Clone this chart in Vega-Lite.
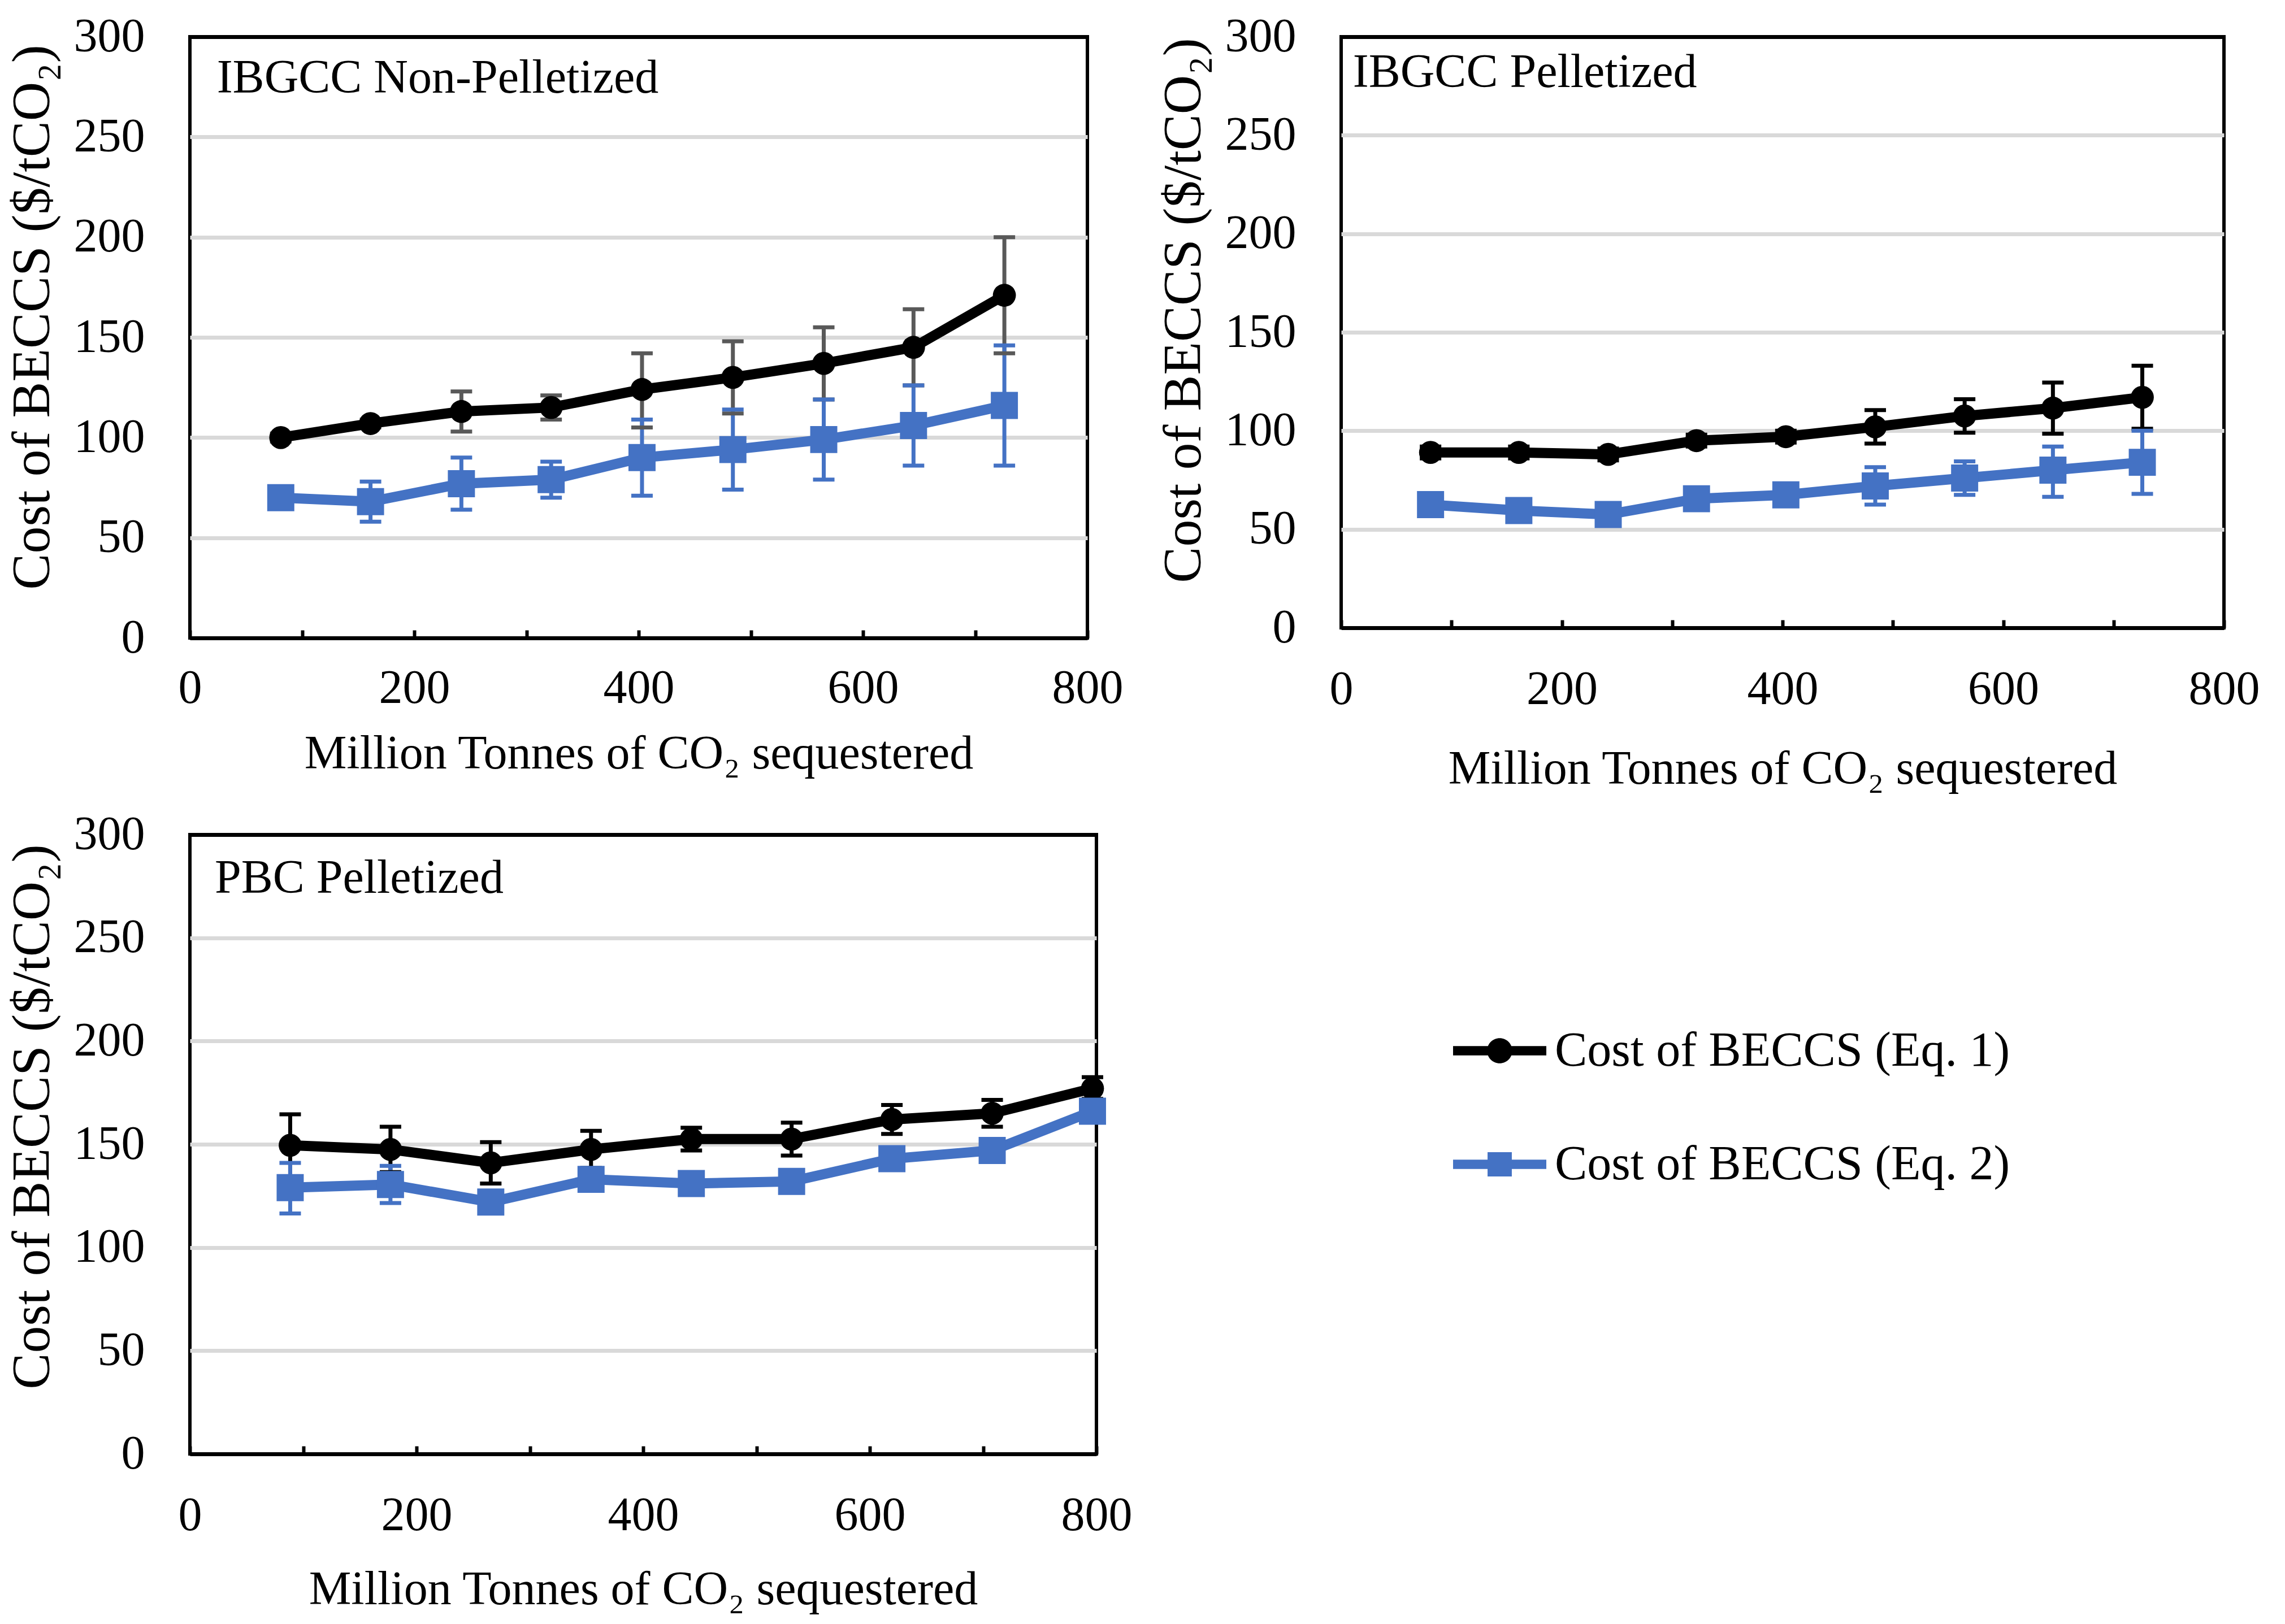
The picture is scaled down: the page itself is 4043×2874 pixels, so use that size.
{
  "$schema": "https://vega.github.io/schema/vega-lite/v6.json",
  "background": "white",
  "padding": {"left": 5, "top": 20, "right": 5, "bottom": 5},
  "config": {
    "font": "Liberation Serif",
    "view": {"stroke": "black", "strokeWidth": 6},
    "axis": {"labelFont": "Liberation Serif", "titleFont": "Liberation Serif", "labelColor": "black", "titleColor": "black", "titleFontWeight": "normal", "labelFlush": false, "labelOverlap": false},
    "axisY": {"grid": true, "gridColor": {"condition": {"test": "datum.value === 0 || datum.value === 300", "value": "black"}, "value": "#d9d9d9"}, "gridWidth": 7, "domain": false, "ticks": false, "labelFontSize": 84, "labelPadding": 80, "titleFontSize": 96, "titlePadding": 30},
    "axisX": {"grid": false, "domain": false, "ticks": true, "tickSize": -14, "tickWidth": 6, "tickColor": "black", "labelFontSize": 84, "labelPadding": 60, "titleFontSize": 84, "titlePadding": 33}
  },
  "resolve": {"scale": {"color": "independent", "shape": "independent"}, "legend": {"color": "independent", "shape": "independent"}},
  "datasets": {
    "p1": [
      {"series": "Cost of BECCS (Eq. 1)", "x": 81, "y": 100, "lo": 98, "hi": 102},
      {"series": "Cost of BECCS (Eq. 1)", "x": 161, "y": 107, "lo": 105, "hi": 109},
      {"series": "Cost of BECCS (Eq. 1)", "x": 242, "y": 113, "lo": 103, "hi": 123},
      {"series": "Cost of BECCS (Eq. 1)", "x": 322, "y": 115, "lo": 109, "hi": 121},
      {"series": "Cost of BECCS (Eq. 1)", "x": 403, "y": 124, "lo": 105, "hi": 142},
      {"series": "Cost of BECCS (Eq. 1)", "x": 484, "y": 130, "lo": 112, "hi": 148},
      {"series": "Cost of BECCS (Eq. 1)", "x": 565, "y": 137, "lo": 119, "hi": 155},
      {"series": "Cost of BECCS (Eq. 1)", "x": 645, "y": 145, "lo": 126, "hi": 164},
      {"series": "Cost of BECCS (Eq. 1)", "x": 726, "y": 171, "lo": 142, "hi": 200},
      {"series": "Cost of BECCS (Eq. 2)", "x": 81, "y": 70, "lo": 66, "hi": 74},
      {"series": "Cost of BECCS (Eq. 2)", "x": 161, "y": 68, "lo": 58, "hi": 78},
      {"series": "Cost of BECCS (Eq. 2)", "x": 242, "y": 77, "lo": 64, "hi": 90},
      {"series": "Cost of BECCS (Eq. 2)", "x": 322, "y": 79, "lo": 70, "hi": 88},
      {"series": "Cost of BECCS (Eq. 2)", "x": 403, "y": 90, "lo": 71, "hi": 109},
      {"series": "Cost of BECCS (Eq. 2)", "x": 484, "y": 94, "lo": 74, "hi": 114},
      {"series": "Cost of BECCS (Eq. 2)", "x": 565, "y": 99, "lo": 79, "hi": 119},
      {"series": "Cost of BECCS (Eq. 2)", "x": 645, "y": 106, "lo": 86, "hi": 126},
      {"series": "Cost of BECCS (Eq. 2)", "x": 726, "y": 116, "lo": 86, "hi": 146}
    ],
    "p2": [
      {"series": "Cost of BECCS (Eq. 1)", "x": 81, "y": 89, "lo": 86, "hi": 92},
      {"series": "Cost of BECCS (Eq. 1)", "x": 161, "y": 89, "lo": 86, "hi": 92},
      {"series": "Cost of BECCS (Eq. 1)", "x": 242, "y": 88, "lo": 85, "hi": 91},
      {"series": "Cost of BECCS (Eq. 1)", "x": 322, "y": 95, "lo": 92, "hi": 98},
      {"series": "Cost of BECCS (Eq. 1)", "x": 403, "y": 97, "lo": 94, "hi": 100},
      {"series": "Cost of BECCS (Eq. 1)", "x": 484, "y": 102, "lo": 93.5, "hi": 110.5},
      {"series": "Cost of BECCS (Eq. 1)", "x": 565, "y": 107.5, "lo": 99, "hi": 116},
      {"series": "Cost of BECCS (Eq. 1)", "x": 645, "y": 111.5, "lo": 98.5, "hi": 124.5},
      {"series": "Cost of BECCS (Eq. 1)", "x": 726, "y": 117, "lo": 101, "hi": 133},
      {"series": "Cost of BECCS (Eq. 2)", "x": 81, "y": 62.5, "lo": 59.5, "hi": 65.5},
      {"series": "Cost of BECCS (Eq. 2)", "x": 161, "y": 59.5, "lo": 56.5, "hi": 62.5},
      {"series": "Cost of BECCS (Eq. 2)", "x": 242, "y": 57.5, "lo": 54.5, "hi": 60.5},
      {"series": "Cost of BECCS (Eq. 2)", "x": 322, "y": 65.5, "lo": 62.5, "hi": 68.5},
      {"series": "Cost of BECCS (Eq. 2)", "x": 403, "y": 67.5, "lo": 64.5, "hi": 70.5},
      {"series": "Cost of BECCS (Eq. 2)", "x": 484, "y": 72, "lo": 62.5, "hi": 81.5},
      {"series": "Cost of BECCS (Eq. 2)", "x": 565, "y": 76, "lo": 67.5, "hi": 84.5},
      {"series": "Cost of BECCS (Eq. 2)", "x": 645, "y": 80, "lo": 66.5, "hi": 92},
      {"series": "Cost of BECCS (Eq. 2)", "x": 726, "y": 84, "lo": 68, "hi": 100}
    ],
    "p3": [
      {"series": "Cost of BECCS (Eq. 1)", "x": 88.5, "y": 149.5, "lo": 134.5, "hi": 164.5},
      {"series": "Cost of BECCS (Eq. 1)", "x": 177, "y": 147.5, "lo": 136.5, "hi": 158.5},
      {"series": "Cost of BECCS (Eq. 1)", "x": 265.5, "y": 141, "lo": 131, "hi": 151},
      {"series": "Cost of BECCS (Eq. 1)", "x": 354, "y": 147.5, "lo": 138.5, "hi": 156.5},
      {"series": "Cost of BECCS (Eq. 1)", "x": 442.5, "y": 152.5, "lo": 147, "hi": 158},
      {"series": "Cost of BECCS (Eq. 1)", "x": 531, "y": 152.5, "lo": 144.5, "hi": 160.5},
      {"series": "Cost of BECCS (Eq. 1)", "x": 619.5, "y": 162, "lo": 155, "hi": 169},
      {"series": "Cost of BECCS (Eq. 1)", "x": 708, "y": 165, "lo": 158.5, "hi": 171.5},
      {"series": "Cost of BECCS (Eq. 1)", "x": 796.5, "y": 177, "lo": 172, "hi": 182.5},
      {"series": "Cost of BECCS (Eq. 2)", "x": 88.5, "y": 129, "lo": 116.5, "hi": 141},
      {"series": "Cost of BECCS (Eq. 2)", "x": 177, "y": 130.5, "lo": 121.5, "hi": 139.5},
      {"series": "Cost of BECCS (Eq. 2)", "x": 265.5, "y": 122, "lo": 119, "hi": 125},
      {"series": "Cost of BECCS (Eq. 2)", "x": 354, "y": 133, "lo": 130, "hi": 136},
      {"series": "Cost of BECCS (Eq. 2)", "x": 442.5, "y": 131, "lo": 128, "hi": 134},
      {"series": "Cost of BECCS (Eq. 2)", "x": 531, "y": 132, "lo": 129, "hi": 135},
      {"series": "Cost of BECCS (Eq. 2)", "x": 619.5, "y": 143, "lo": 140, "hi": 146},
      {"series": "Cost of BECCS (Eq. 2)", "x": 708, "y": 147, "lo": 144, "hi": 150},
      {"series": "Cost of BECCS (Eq. 2)", "x": 796.5, "y": 166, "lo": 163, "hi": 169}
    ]
  },
  "columns": 2,
  "spacing": {"row": 348, "column": 433},
  "bounds": "flush",
  "concat": [
    {
      "width": 1588, "height": 1064,
      "layer": [
        {"data": {"name": "p1"}, "mark": {"type": "rule", "strokeWidth": 7}, "encoding": {"x": {"field": "x", "type": "quantitative", "scale": {"domain": [0, 800], "nice": false}, "axis": {"title": "Million Tonnes of CO₂ sequestered", "values": [0, 100, 200, 300, 400, 500, 600, 700, 800], "labelExpr": "datum.value % 200 === 0 ? datum.label : ''", "labelPadding": 62, "titlePadding": 33}}, "y": {"field": "lo", "type": "quantitative", "scale": {"domain": [0, 300], "nice": false}, "axis": {"title": "Cost of BECCS ($/tCO₂)", "values": [0, 50, 100, 150, 200, 250, 300], "titleY": 496}}, "y2": {"field": "hi"}, "color": {"condition": {"test": "datum.series === 'Cost of BECCS (Eq. 1)'", "value": "#595959"}, "value": "#4472C4"}}},
        {"data": {"name": "p1"}, "mark": {"type": "tick", "orient": "horizontal", "thickness": 7, "size": 38, "opacity": 1}, "encoding": {"x": {"field": "x", "type": "quantitative"}, "y": {"field": "lo", "type": "quantitative"}, "color": {"condition": {"test": "datum.series === 'Cost of BECCS (Eq. 1)'", "value": "#595959"}, "value": "#4472C4"}}},
        {"data": {"name": "p1"}, "mark": {"type": "tick", "orient": "horizontal", "thickness": 7, "size": 38, "opacity": 1}, "encoding": {"x": {"field": "x", "type": "quantitative"}, "y": {"field": "hi", "type": "quantitative"}, "color": {"condition": {"test": "datum.series === 'Cost of BECCS (Eq. 1)'", "value": "#595959"}, "value": "#4472C4"}}},
        {"data": {"name": "p1"}, "mark": {"type": "line", "strokeWidth": 18}, "encoding": {"x": {"field": "x", "type": "quantitative"}, "y": {"field": "y", "type": "quantitative"}, "detail": {"field": "series", "type": "nominal"}, "color": {"condition": {"test": "datum.series === 'Cost of BECCS (Eq. 1)'", "value": "black"}, "value": "#4472C4"}}},
        {"data": {"name": "p1"}, "transform": [{"filter": "datum.series === 'Cost of BECCS (Eq. 1)'"}], "mark": {"type": "point", "shape": "circle", "filled": true, "opacity": 1, "size": 1660, "strokeWidth": 0, "color": "black"}, "encoding": {"x": {"field": "x", "type": "quantitative"}, "y": {"field": "y", "type": "quantitative"}}},
        {"data": {"name": "p1"}, "transform": [{"filter": "datum.series === 'Cost of BECCS (Eq. 2)'"}], "mark": {"type": "point", "shape": "square", "filled": true, "opacity": 1, "size": 2300, "strokeWidth": 0, "color": "#4472C4"}, "encoding": {"x": {"field": "x", "type": "quantitative"}, "y": {"field": "y", "type": "quantitative"}}},
        {"data": {"values": [{"label": "IBGCC Non-Pelletized"}]}, "mark": {"type": "text", "align": "left", "baseline": "alphabetic", "fontSize": 84, "font": "Liberation Serif", "fill": "black"}, "encoding": {"x": {"datum": 24, "type": "quantitative"}, "y": {"datum": 272, "type": "quantitative"}, "text": {"field": "label", "type": "nominal"}}}
      ]
    },
    {
      "width": 1562, "height": 1046,
      "layer": [
        {"data": {"name": "p2"}, "mark": {"type": "rule", "strokeWidth": 7}, "encoding": {"x": {"field": "x", "type": "quantitative", "scale": {"domain": [0, 800], "nice": false}, "axis": {"title": "Million Tonnes of CO₂ sequestered", "values": [0, 100, 200, 300, 400, 500, 600, 700, 800], "labelExpr": "datum.value % 200 === 0 ? datum.label : ''", "labelPadding": 82, "titlePadding": 58}}, "y": {"field": "lo", "type": "quantitative", "scale": {"domain": [0, 300], "nice": false}, "axis": {"title": "Cost of BECCS ($/tCO₂)", "values": [0, 50, 100, 150, 200, 250, 300], "titleY": 484}}, "y2": {"field": "hi"}, "color": {"condition": {"test": "datum.series === 'Cost of BECCS (Eq. 1)'", "value": "black"}, "value": "#4472C4"}}},
        {"data": {"name": "p2"}, "mark": {"type": "tick", "orient": "horizontal", "thickness": 7, "size": 38, "opacity": 1}, "encoding": {"x": {"field": "x", "type": "quantitative"}, "y": {"field": "lo", "type": "quantitative"}, "color": {"condition": {"test": "datum.series === 'Cost of BECCS (Eq. 1)'", "value": "black"}, "value": "#4472C4"}}},
        {"data": {"name": "p2"}, "mark": {"type": "tick", "orient": "horizontal", "thickness": 7, "size": 38, "opacity": 1}, "encoding": {"x": {"field": "x", "type": "quantitative"}, "y": {"field": "hi", "type": "quantitative"}, "color": {"condition": {"test": "datum.series === 'Cost of BECCS (Eq. 1)'", "value": "black"}, "value": "#4472C4"}}},
        {"data": {"name": "p2"}, "mark": {"type": "line", "strokeWidth": 18}, "encoding": {"x": {"field": "x", "type": "quantitative"}, "y": {"field": "y", "type": "quantitative"}, "detail": {"field": "series", "type": "nominal"}, "color": {"condition": {"test": "datum.series === 'Cost of BECCS (Eq. 1)'", "value": "black"}, "value": "#4472C4"}}},
        {"data": {"name": "p2"}, "transform": [{"filter": "datum.series === 'Cost of BECCS (Eq. 1)'"}], "mark": {"type": "point", "shape": "circle", "filled": true, "opacity": 1, "size": 1660, "strokeWidth": 0, "color": "black"}, "encoding": {"x": {"field": "x", "type": "quantitative"}, "y": {"field": "y", "type": "quantitative"}}},
        {"data": {"name": "p2"}, "transform": [{"filter": "datum.series === 'Cost of BECCS (Eq. 2)'"}], "mark": {"type": "point", "shape": "square", "filled": true, "opacity": 1, "size": 2300, "strokeWidth": 0, "color": "#4472C4"}, "encoding": {"x": {"field": "x", "type": "quantitative"}, "y": {"field": "y", "type": "quantitative"}}},
        {"data": {"values": [{"label": "IBGCC Pelletized"}]}, "mark": {"type": "text", "align": "left", "baseline": "alphabetic", "fontSize": 84, "font": "Liberation Serif", "fill": "black"}, "encoding": {"x": {"datum": 10.6, "type": "quantitative"}, "y": {"datum": 274.6, "type": "quantitative"}, "text": {"field": "label", "type": "nominal"}}}
      ]
    },
    {
      "width": 1604, "height": 1096,
      "layer": [
        {"data": {"name": "p3"}, "mark": {"type": "rule", "strokeWidth": 7}, "encoding": {"x": {"field": "x", "type": "quantitative", "scale": {"domain": [0, 800], "nice": false}, "axis": {"title": "Million Tonnes of CO₂ sequestered", "values": [0, 100, 200, 300, 400, 500, 600, 700, 800], "labelExpr": "datum.value % 200 === 0 ? datum.label : ''", "labelPadding": 82, "titlePadding": 48}}, "y": {"field": "lo", "type": "quantitative", "scale": {"domain": [0, 300], "nice": false}, "axis": {"title": "Cost of BECCS ($/tCO₂)", "values": [0, 50, 100, 150, 200, 250, 300], "titleY": 499}}, "y2": {"field": "hi"}, "color": {"condition": {"test": "datum.series === 'Cost of BECCS (Eq. 1)'", "value": "black"}, "value": "#4472C4"}}},
        {"data": {"name": "p3"}, "mark": {"type": "tick", "orient": "horizontal", "thickness": 7, "size": 38, "opacity": 1}, "encoding": {"x": {"field": "x", "type": "quantitative"}, "y": {"field": "lo", "type": "quantitative"}, "color": {"condition": {"test": "datum.series === 'Cost of BECCS (Eq. 1)'", "value": "black"}, "value": "#4472C4"}}},
        {"data": {"name": "p3"}, "mark": {"type": "tick", "orient": "horizontal", "thickness": 7, "size": 38, "opacity": 1}, "encoding": {"x": {"field": "x", "type": "quantitative"}, "y": {"field": "hi", "type": "quantitative"}, "color": {"condition": {"test": "datum.series === 'Cost of BECCS (Eq. 1)'", "value": "black"}, "value": "#4472C4"}}},
        {"data": {"name": "p3"}, "mark": {"type": "line", "strokeWidth": 18}, "encoding": {"x": {"field": "x", "type": "quantitative"}, "y": {"field": "y", "type": "quantitative"}, "detail": {"field": "series", "type": "nominal"}, "color": {"condition": {"test": "datum.series === 'Cost of BECCS (Eq. 1)'", "value": "black"}, "value": "#4472C4"}}},
        {"data": {"name": "p3"}, "transform": [{"filter": "datum.series === 'Cost of BECCS (Eq. 1)'"}], "mark": {"type": "point", "shape": "circle", "filled": true, "opacity": 1, "size": 1660, "strokeWidth": 0, "color": "black"}, "encoding": {"x": {"field": "x", "type": "quantitative"}, "y": {"field": "y", "type": "quantitative"}}},
        {"data": {"name": "p3"}, "transform": [{"filter": "datum.series === 'Cost of BECCS (Eq. 2)'"}], "mark": {"type": "point", "shape": "square", "filled": true, "opacity": 1, "size": 2300, "strokeWidth": 0, "color": "#4472C4"}, "encoding": {"x": {"field": "x", "type": "quantitative"}, "y": {"field": "y", "type": "quantitative"}}},
        {"data": {"name": "p3"}, "mark": {"type": "point", "filled": true, "opacity": 0, "size": 0, "strokeWidth": 0}, "encoding": {"x": {"field": "x", "type": "quantitative"}, "y": {"field": "y", "type": "quantitative"},
          "color": {"field": "series", "type": "nominal", "scale": {"domain": ["Cost of BECCS (Eq. 1)", "Cost of BECCS (Eq. 2)"], "range": ["black", "#4472C4"]}, "legend": {"title": null, "orient": "none", "legendX": 2235, "legendY": 300, "symbolSize": 27225, "symbolOpacity": 1, "symbolStrokeWidth": 0, "labelFontSize": 86, "labelFont": "Liberation Serif", "labelColor": "black", "labelLimit": 2000, "rowPadding": 75, "labelOffset": 15}},
          "shape": {"field": "series", "type": "nominal", "scale": {"domain": ["Cost of BECCS (Eq. 1)", "Cost of BECCS (Eq. 2)"], "range": ["M-1,-0.1H1V0.1H-1ZM-0.27,0A0.27,0.27,0,1,1,0.27,0A0.27,0.27,0,1,1,-0.27,0Z", "M-1,-0.1H1V0.1H-1ZM-0.26,-0.26H0.26V0.26H-0.26Z"]}, "legend": {"title": null, "orient": "none", "legendX": 2235, "legendY": 300, "symbolSize": 27225, "symbolOpacity": 1, "symbolStrokeWidth": 0, "labelFontSize": 86, "labelFont": "Liberation Serif", "labelColor": "black", "labelLimit": 2000, "rowPadding": 75, "labelOffset": 15}}}},
        {"data": {"values": [{"label": "PBC Pelletized"}]}, "mark": {"type": "text", "align": "left", "baseline": "alphabetic", "fontSize": 84, "font": "Liberation Serif", "fill": "black"}, "encoding": {"x": {"datum": 21.9, "type": "quantitative"}, "y": {"datum": 271.8, "type": "quantitative"}, "text": {"field": "label", "type": "nominal"}}}
      ]
    }
  ]
}
